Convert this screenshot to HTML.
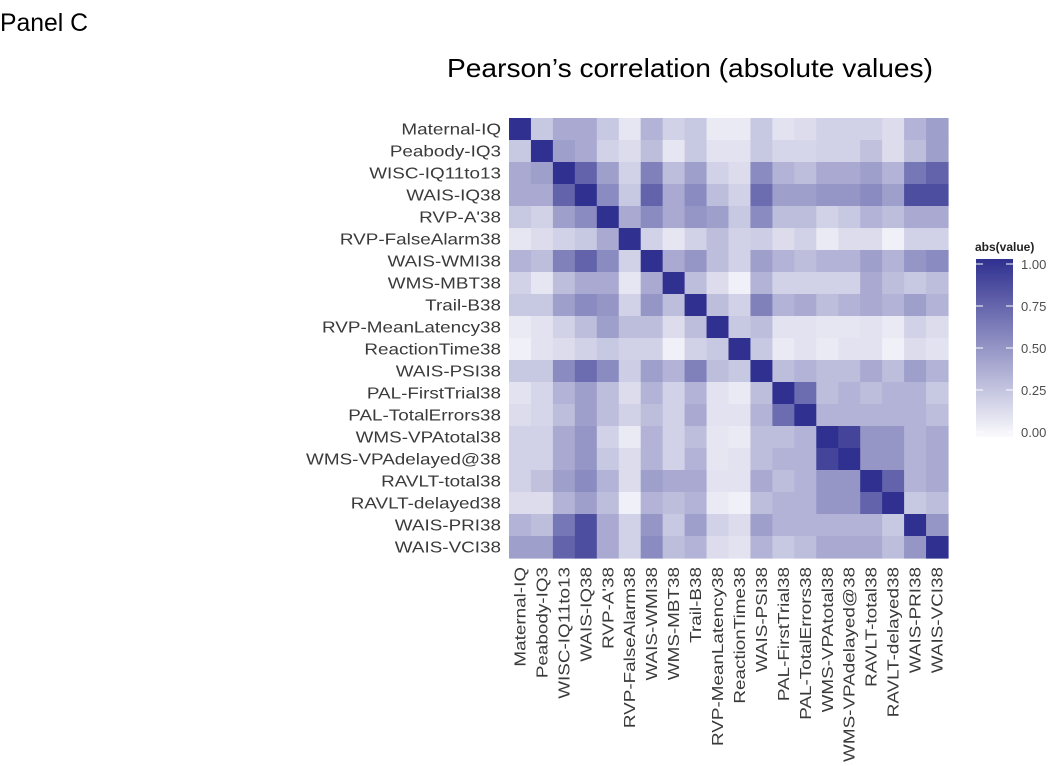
<!DOCTYPE html>
<html><head><meta charset="utf-8"><style>
body{margin:0;background:#fff;}
svg{display:block;font-family:"Liberation Sans",sans-serif;}
</style></head><body>
<svg id="chart" width="1050" height="766">
<text x="0" y="31" font-size="25" fill="#000" textLength="88" lengthAdjust="spacingAndGlyphs">Panel C</text>
<text x="447" y="77" font-size="26" fill="#000" textLength="486" lengthAdjust="spacingAndGlyphs">Pearson’s correlation (absolute values)</text>
<g id="cells"></g><g id="ylabels"></g><g id="xlabels"></g><g id="legend"></g>
</svg>
<script>
const labels=["Maternal-IQ","Peabody-IQ3","WISC-IQ11to13","WAIS-IQ38","RVP-A'38","RVP-FalseAlarm38","WAIS-WMI38","WMS-MBT38","Trail-B38","RVP-MeanLatency38","ReactionTime38","WAIS-PSI38","PAL-FirstTrial38","PAL-TotalErrors38","WMS-VPAtotal38","WMS-VPAdelayed@38","RAVLT-total38","RAVLT-delayed38","WAIS-PRI38","WAIS-VCI38"];
const values=[
[1,.25,.4,.4,.25,.1,.35,.2,.25,.08,.08,.25,.12,.15,.2,.2,.2,.15,.35,.45],
[.25,1,.45,.4,.2,.15,.3,.1,.25,.12,.12,.25,.18,.18,.2,.2,.28,.15,.3,.45],
[.4,.45,1,.75,.45,.2,.6,.3,.45,.2,.15,.55,.35,.3,.4,.4,.45,.35,.65,.75],
[.4,.4,.75,1,.55,.25,.75,.4,.55,.3,.2,.7,.45,.45,.5,.5,.55,.45,.85,.85],
[.25,.2,.45,.55,1,.4,.55,.4,.5,.45,.25,.55,.3,.3,.2,.25,.35,.3,.4,.4],
[.1,.15,.2,.25,.4,1,.2,.1,.2,.3,.2,.22,.15,.2,.08,.15,.15,.05,.2,.2],
[.35,.3,.6,.75,.55,.2,1,.4,.5,.3,.2,.45,.35,.3,.35,.35,.45,.35,.5,.55],
[.2,.1,.3,.4,.4,.1,.4,1,.3,.15,.05,.35,.2,.2,.2,.2,.4,.3,.25,.3],
[.25,.25,.45,.55,.5,.2,.5,.3,1,.3,.2,.6,.35,.4,.3,.35,.4,.35,.45,.35],
[.08,.12,.2,.3,.45,.3,.3,.15,.3,1,.25,.3,.12,.12,.1,.1,.12,.08,.2,.15],
[.05,.12,.15,.2,.25,.2,.2,.05,.2,.25,1,.25,.08,.12,.08,.12,.12,.05,.15,.12],
[.25,.25,.55,.7,.55,.22,.45,.35,.6,.3,.25,1,.3,.35,.3,.3,.4,.3,.45,.35],
[.12,.18,.35,.45,.3,.15,.35,.2,.35,.12,.08,.3,1,.7,.3,.35,.3,.35,.35,.25],
[.15,.18,.3,.45,.3,.2,.3,.2,.4,.12,.12,.35,.7,1,.35,.35,.35,.35,.35,.3],
[.2,.2,.4,.5,.2,.08,.35,.2,.3,.1,.08,.3,.3,.35,1,.9,.5,.5,.35,.4],
[.2,.2,.4,.5,.25,.15,.35,.2,.35,.1,.12,.3,.35,.35,.9,1,.5,.5,.35,.4],
[.2,.28,.45,.55,.35,.15,.45,.4,.4,.12,.12,.4,.3,.35,.5,.5,1,.75,.35,.4],
[.15,.15,.35,.45,.3,.05,.35,.3,.35,.08,.05,.3,.35,.35,.5,.5,.75,1,.25,.3],
[.35,.3,.65,.85,.4,.2,.5,.25,.45,.2,.15,.45,.35,.35,.35,.35,.35,.25,1,.5],
[.45,.45,.75,.85,.4,.2,.55,.3,.35,.15,.12,.35,.25,.3,.4,.4,.4,.3,.5,1]];
const legendTicks=[0,0.25,0.5,0.75,1];
const legendTickLabels=["0.00","0.25","0.50","0.75","1.00"];

const NS="http://www.w3.org/2000/svg";
const X0=509,Y0=118,W=439,H=440,n=labels.length,cw=W/n,ch=H/n;
const xs=i=>X0+i*cw, ys=j=>Y0+j*ch;
function col(v){const lo=[250,250,253],hi=[47,48,143];
 return "rgb("+lo.map((c,k)=>Math.round(c+(hi[k]-c)*v)).join(",")+")";}
function mk(t,a,p){const e=document.createElementNS(NS,t);for(const k in a)e.setAttribute(k,a[k]);p.appendChild(e);return e;}
const cells=document.getElementById("cells");
values.forEach((row,r)=>row.forEach((v,c)=>{
 const e=mk("rect",{x:xs(c),y:ys(r),width:cw+0.6,height:ch+0.6,fill:col(v)},cells);
 
 
}));
const yl=document.getElementById("ylabels"),xl=document.getElementById("xlabels");
labels.forEach((l,i)=>{
 const cy=ys(i)+ch/2+5.5;
 const t=mk("text",{x:0,y:0,"font-size":16,fill:"#3a3a3a","text-anchor":"end",transform:`translate(501,${cy}) scale(1.18,1)`},yl);
 t.textContent=l;
 
 
 const cx=xs(i)+cw/2+5.5;
 const u=mk("text",{x:0,y:0,"font-size":16,fill:"#3a3a3a","text-anchor":"end",transform:`translate(${cx},567) rotate(-90) scale(1.18,1)`},xl);
 u.textContent=l;
 
 
});
const lg=document.getElementById("legend");
const defs=mk("defs",{},lg);
const gr=mk("linearGradient",{id:"lgrad",x1:0,y1:1,x2:0,y2:0},defs);
for(let k=0;k<=10;k++)mk("stop",{offset:k/10,"stop-color":col(k/10)},gr);
const tt=mk("text",{x:975,y:251,"font-size":12,"font-weight":"bold",fill:"#222"},lg);
tt.textContent="abs(value)";


const bar=mk("rect",{x:976,y:259,width:37,height:178,fill:"url(#lgrad)"},lg);


const ly=v=>432-v*168;
legendTicks.forEach((v,i)=>{
 mk("line",{x1:976,x2:983,y1:ly(v),y2:ly(v),stroke:"#fff","stroke-width":1},lg);
 mk("line",{x1:1006,x2:1013,y1:ly(v),y2:ly(v),stroke:"#fff","stroke-width":1},lg);
 const t=mk("text",{x:1021,y:ly(v)+5,"font-size":13,fill:"#4d4d4d"},lg);
 t.textContent=legendTickLabels[i];
 
 
});
</script>
</body></html>
